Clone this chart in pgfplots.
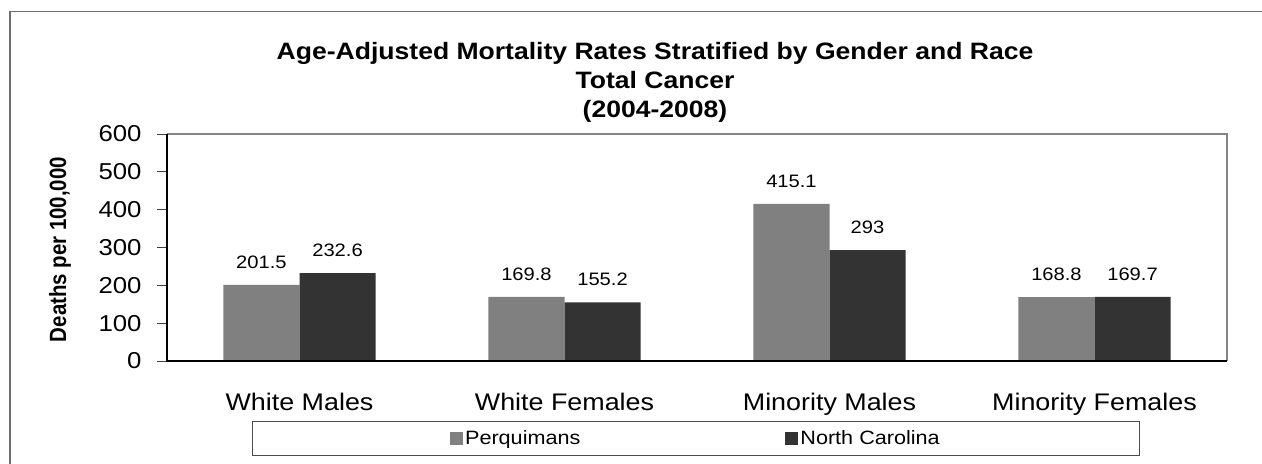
\documentclass[border=0pt]{standalone}
\usepackage{pgfplots}
\pgfplotsset{compat=1.18}
\usepackage{fontspec}
\setmainfont{Liberation Sans}[FakeStretch=1.12]
\newfontfamily\plainsans{Liberation Sans}
\definecolor{perq}{HTML}{808080}
\definecolor{nc}{HTML}{333333}
\definecolor{framegray}{HTML}{858585}
\definecolor{outergray}{HTML}{6E6E6E}
\begin{document}
\begin{tikzpicture}
\clip (0,0) rectangle (1262bp,464bp);
\draw[line width=1.4bp, color=outergray] (10bp,-10bp) -- (10bp,452.3bp) -- (1280bp,452.3bp);
\begin{axis}[
  at={(167bp,103bp)}, anchor=south west,
  scale only axis, width=1060bp, height=227bp,
  xmin=0, xmax=4, ymin=0, ymax=600,
  ybar=0pt, bar width=0.287,
  axis line style={draw=none},
  /pgf/number format/assume math mode=true,
  ytick={0,100,200,300,400,500,600},
  ytick align=outside, ytick pos=left,
  major tick length=10bp,
  ytick style={black!75, line width=1bp},
  yticklabel style={font=\fontsize{23bp}{26bp}\selectfont, xshift=-12bp},
  xtick={0.5,1.5,2.5,3.5},
  xticklabels={White Males,White Females,Minority Males,Minority Females},
  xtick style={draw=none},
  minor xtick={0,1,2,3,4},
  minor tick length=7bp,
  xtick align=outside, xtick pos=bottom,
  minor x tick style={black, line width=1bp},
  xticklabel style={font=\fontsize{24bp}{28bp}\selectfont, yshift=-19bp},
  ylabel={\scalebox{0.87}[1]{Deaths per 100,000}},
  ylabel style={at={(rel axis cs:0,0.5)}, anchor=center, xshift=-2bp, yshift=107bp,
    font=\plainsans\fontsize{23.5bp}{26bp}\selectfont\bfseries},
  title={Age-Adjusted Mortality Rates Stratified by Gender and Race\\Total Cancer\\(2004-2008)},
  title style={at={(rel axis cs:0.4604,1)}, anchor=south, inner sep=0pt, yshift=5bp,
    align=center, font=\fontsize{23.7bp}{29bp}\selectfont\bfseries},
  nodes near coords,
  nodes near coords style={font=\fontsize{18bp}{21bp}\selectfont, anchor=south, inner sep=0pt, yshift=16bp, text=black},
  legend columns=2,
  legend style={at={(rel axis cs:0.499,0)}, anchor=north, yshift=-60bp,
    draw=black!70, line width=1bp, inner xsep=198bp, inner ysep=7.2bp,
    font=\fontsize{19.3bp}{22bp}\selectfont,
    /tikz/every even column/.append style={column sep=203bp}},
  after end axis/.code={
    \draw[framegray, line width=2bp] (rel axis cs:0,1) -- (rel axis cs:1,1) -- (rel axis cs:1,0);
    \draw[black, line width=1.5bp] (rel axis cs:0,1) -- (rel axis cs:0,0) -- (rel axis cs:1,0);
  },
]
\addplot[fill=perq, draw=none,
  legend image code/.code={\fill[perq] (0bp,-6.5bp) rectangle (13bp,6.5bp);}]
  coordinates {(0.5,201.5) (1.5,169.8) (2.5,415.1) (3.5,168.8)};
\addplot[fill=nc, draw=none,
  legend image code/.code={\fill[nc] (0bp,-6.5bp) rectangle (13bp,6.5bp);}]
  coordinates {(0.5,232.6) (1.5,155.2) (2.5,293) (3.5,169.7)};
\legend{Perquimans, North Carolina}
\end{axis}
\end{tikzpicture}
\end{document}
